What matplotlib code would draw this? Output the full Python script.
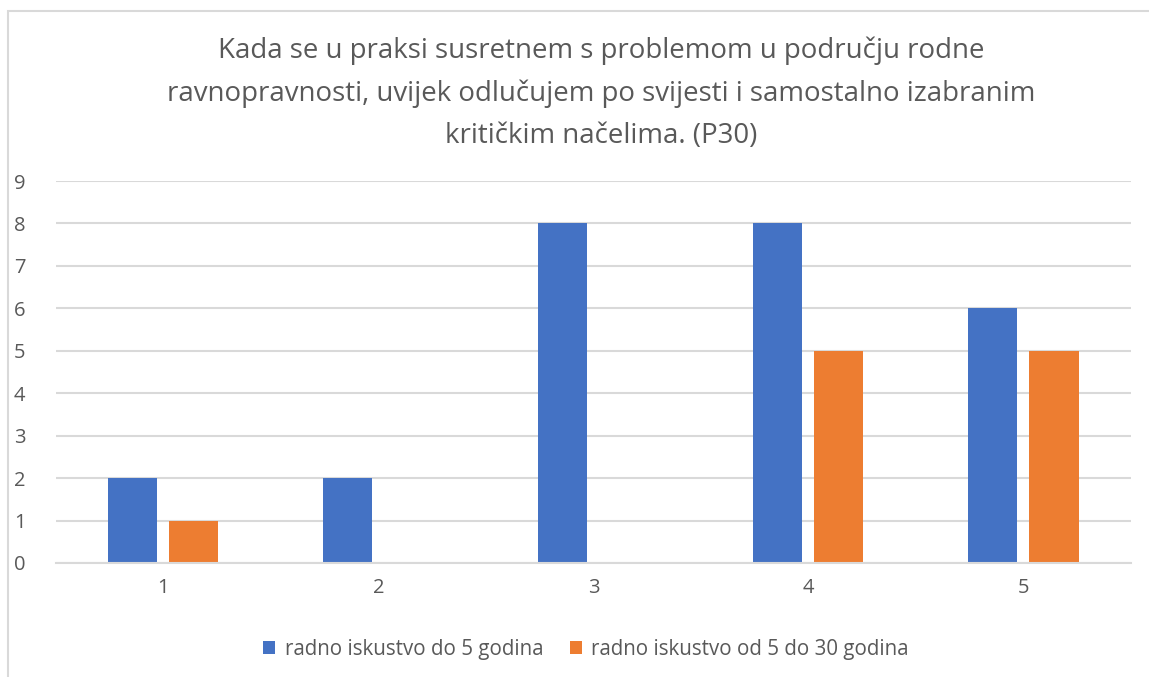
import numpy as np
import matplotlib
matplotlib.use('Agg')
from matplotlib import pyplot as plt
from matplotlib.patches import Rectangle

# podaci
categories = ['1', '2', '3', '4', '5']
do_5 = [2, 2, 8, 8, 6]
od_5_do_30 = [1, 0, 0, 5, 5]
labels = ['radno iskustvo do 5 godina', 'radno iskustvo od 5 do 30 godina']
title = ('Kada se u praksi susretnem s problemom u području rodne\n'
         'ravnopravnosti, uvijek odlučujem po svijesti i samostalno izabranim\n'
         'kritičkim načelima. (P30)')

plt.rcParams['font.family'] = ['Open Sans', 'DejaVu Sans']
txt = '#595959'
grid = '#d9d9d9'

fig = plt.figure(figsize=(11.49, 6.77), dpi=100)
ax = fig.add_axes([0.0487, 0.1684, 0.9356, 0.5642])

x = np.arange(len(categories))
w = 0.228
ax.bar(x - 0.142, do_5, w, color='#4472c4', label=labels[0], zorder=3)
ax.bar(x + 0.142, od_5_do_30, w, color='#ed7d31', label=labels[1], zorder=3)

ax.set_xlim(-0.5, 4.5)
ax.set_ylim(0, 9)
ax.set_yticks(range(10))
ax.set_xticks(x)
ax.set_xticklabels(categories)
ax.yaxis.grid(True, color=grid, linewidth=1.5, zorder=0)
for s in ['top', 'right', 'left']:
    ax.spines[s].set_visible(False)
ax.spines['bottom'].set_color(grid)
ax.spines['bottom'].set_linewidth(1.5)
ax.spines['bottom'].set_zorder(4)
ax.tick_params(length=0, labelsize=14.5, labelcolor=txt)
ax.tick_params(axis='y', pad=22)
ax.tick_params(axis='x', pad=11)

fig.text(0.523, 0.862, title, ha='center', va='center', fontsize=19.9,
         color=txt, linespacing=1.66)

fig.legend(loc='center', bbox_to_anchor=(0.51, 0.041), ncol=2, frameon=False,
           fontsize=14.8, labelcolor=txt, handlelength=0.6, handleheight=0.6,
           handletextpad=0.45, columnspacing=1.3)

# okvir grafikona
fig.patches.append(Rectangle((8 / 1149, -0.05), 1.2, 1.05 - 11 / 677,
                             transform=fig.transFigure, fill=False,
                             edgecolor=grid, linewidth=1.5))

fig.savefig('out.png', dpi=100)
